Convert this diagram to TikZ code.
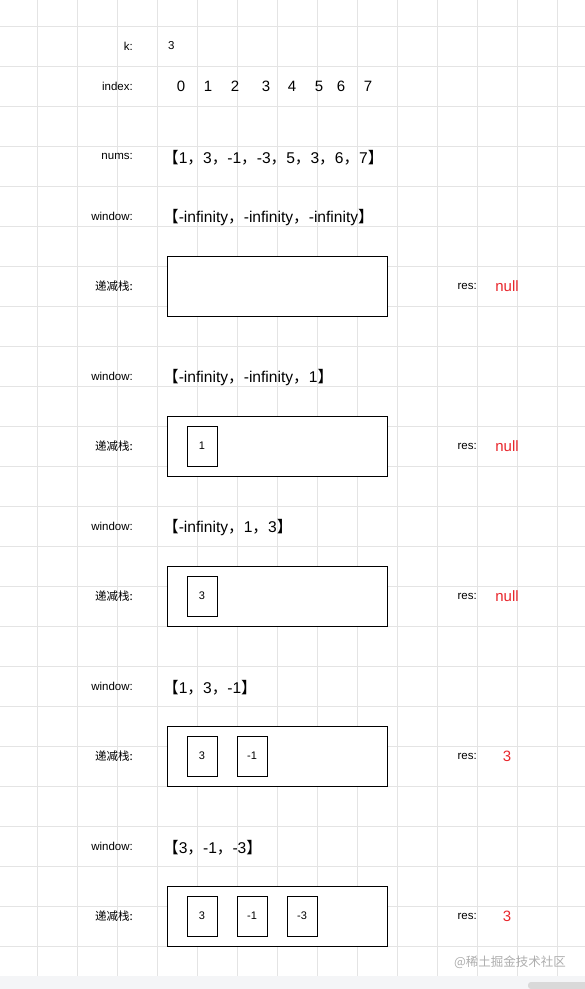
\documentclass[tikz,border=0pt]{standalone}
\usepackage{fontspec}
\setmainfont{Liberation Sans}
\newfontfamily\cjk{Noto Sans CJK SC}
\definecolor{gridgray}{HTML}{E4E4E4}
\definecolor{resred}{HTML}{E8252B}
\definecolor{barbg}{HTML}{F4F5F7}
\definecolor{barthumb}{HTML}{D9D9D9}
\newcommand\lbk{{\cjk 【}}
\newcommand\rbk{{\cjk 】}}
\newcommand\cmm{{\cjk ，}}
\tikzset{
  gridline/.style={draw=gridgray, line width=0.8pt},
  lbl/.style={anchor=east, inner sep=0pt, font=\fontsize{11.5}{13}\selectfont},
  seq/.style={anchor=west, inner sep=0pt, yshift=-1.5pt, font=\fontsize{15.6}{17}\selectfont},
  digit/.style={inner sep=0pt, text height=10.5pt, text depth=0pt, font=\fontsize{15}{16}\selectfont},
  stackbox/.style={draw, line width=1pt, minimum width=220pt, minimum height=60pt, inner sep=0pt, fill=white},
  elem/.style={draw, line width=1pt, minimum width=30pt, minimum height=40pt, inner sep=0pt, fill=white, font=\fontsize{11}{12}\selectfont},
  resval/.style={text=resred, inner sep=0pt, font=\fontsize{15}{16}\selectfont},
}
\begin{document}
\begin{tikzpicture}[x=1pt,y=-1pt]
\useasboundingbox (0,0) rectangle (585,989);

% Background grid
\foreach \x in {37,77,...,557} \draw[gridline] (\x,0) -- (\x,976);
\foreach \y in {26,66,...,946} \draw[gridline] (0,\y) -- (585,\y);

% Header rows
\node[lbl] (klbl) at (133,46) {k:};
\node[anchor=west, inner sep=0pt, font=\fontsize{11.5}{13}\selectfont] (kval) at (168,46) {3};
\node[lbl] (idxlbl) at (133,86) {index:};
\foreach \d/\x in {0/181,1/208,2/235,3/266,4/292,5/319,6/341,7/368}
  \node[digit] (ix\d) at (\x,86) {\d};
\node[lbl] (numslbl) at (133,156) {nums:};
\node[seq] (nums) at (163,156) {\lbk 1\cmm 3\cmm -1\cmm -3\cmm 5\cmm 3\cmm 6\cmm 7\rbk};

% Step 0
\node[lbl] (win0lbl) at (133,216) {window:};
\node[seq] (win0) at (163,216) {\lbk -infinity\cmm -infinity\cmm -infinity\rbk};
\node[lbl] (stk0lbl) at (133,286) {\cjk 递减栈:};
\node[stackbox] (stk0) at (277,286) {};
\node[lbl] (res0lbl) at (477,286) {res:};
\node[resval] (res0) at (507,286) {null};

% Step 1
\node[lbl] (win1lbl) at (133,376) {window:};
\node[seq] (win1) at (163,376) {\lbk -infinity\cmm -infinity\cmm 1\rbk};
\node[lbl] (stk1lbl) at (133,446) {\cjk 递减栈:};
\node[stackbox] (stk1) at (277,446) {};
\node[elem] (stk1a) at (202,446) {1};
\node[lbl] (res1lbl) at (477,446) {res:};
\node[resval] (res1) at (507,446) {null};

% Step 2
\node[lbl] (win2lbl) at (133,526) {window:};
\node[seq] (win2) at (163,526) {\lbk -infinity\cmm 1\cmm 3\rbk};
\node[lbl] (stk2lbl) at (133,596) {\cjk 递减栈:};
\node[stackbox] (stk2) at (277,596) {};
\node[elem] (stk2a) at (202,596) {3};
\node[lbl] (res2lbl) at (477,596) {res:};
\node[resval] (res2) at (507,596) {null};

% Step 3
\node[lbl] (win3lbl) at (133,686) {window:};
\node[seq] (win3) at (163,686) {\lbk 1\cmm 3\cmm -1\rbk};
\node[lbl] (stk3lbl) at (133,756) {\cjk 递减栈:};
\node[stackbox] (stk3) at (277,756) {};
\node[elem] (stk3a) at (202,756) {3};
\node[elem] (stk3b) at (252,756) {-1};
\node[lbl] (res3lbl) at (477,756) {res:};
\node[resval] (res3) at (507,756) {3};

% Step 4
\node[lbl] (win4lbl) at (133,846) {window:};
\node[seq] (win4) at (163,846) {\lbk 3\cmm -1\cmm -3\rbk};
\node[lbl] (stk4lbl) at (133,916) {\cjk 递减栈:};
\node[stackbox] (stk4) at (277,916) {};
\node[elem] (stk4a) at (202,916) {3};
\node[elem] (stk4b) at (252,916) {-1};
\node[elem] (stk4c) at (302,916) {-3};
\node[lbl] (res4lbl) at (477,916) {res:};
\node[resval] (res4) at (507,916) {3};

% Watermark and bottom bar
\node[text=black!32, inner sep=0pt, font=\cjk\fontsize{12.5}{14}\selectfont] (mark) at (510,962) {@稀土掘金技术社区};
\fill[barbg] (0,976) rectangle (585,989);
\fill[barthumb, rounded corners=3pt] (528,982) rectangle (590,989);

\end{tikzpicture}
\end{document}
